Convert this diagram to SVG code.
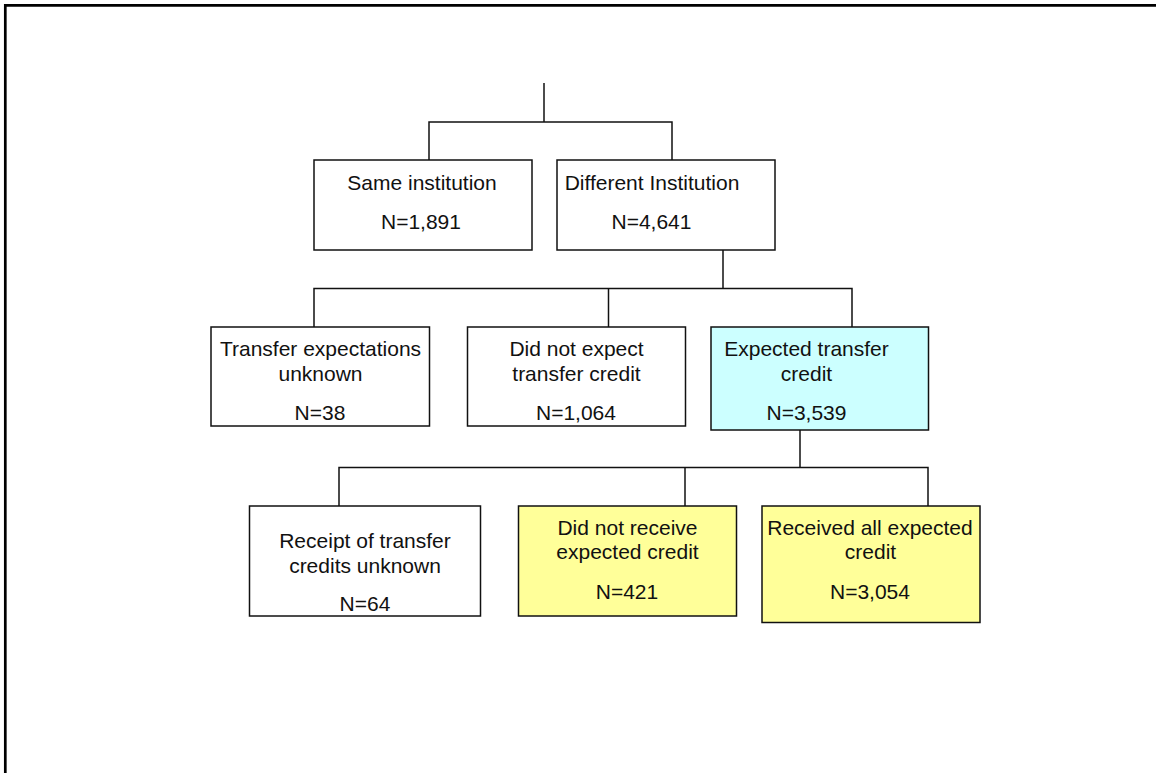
<svg xmlns="http://www.w3.org/2000/svg" width="1156" height="773" viewBox="0 0 1156 773">
<style>
.box{stroke:#111;stroke-width:1.5}
.w{fill:#fff}
.c{fill:#ccffff}
.y{fill:#ffff99}
.t{font-family:"Liberation Sans",Arial,sans-serif;font-size:21px;fill:#111;text-anchor:middle}
.conn{fill:none;stroke:#111;stroke-width:1.5}
</style>
<rect x="0" y="0" width="1156" height="773" fill="#fff"/>
<path d="M5.3,773 V5.3 H1156" fill="none" stroke="#000" stroke-width="2.7"/>
<g id="connectors" class="conn">
<path d="M544,83 V122"/>
<path d="M429,160 V122 H672 V160"/>
<path d="M723,250 V288.5"/>
<path d="M314,327 V288.5 H852 V327"/>
<path d="M608.5,288.5 V327"/>
<path d="M800,430 V467.5"/>
<path d="M339,506 V467.5 H928 V506"/>
<path d="M685,467.5 V506"/>
</g>
<g id="same">
<rect class="box w" x="314" y="160" width="218" height="90"/>
<text class="t" x="422" y="190">Same institution</text>
<text class="t" x="421" y="228.5">N=1,891</text>
</g>
<g id="different">
<rect class="box w" x="557" y="160" width="218" height="90"/>
<text class="t" x="652" y="190">Different Institution</text>
<text class="t" x="651.5" y="228.5">N=4,641</text>
</g>
<g id="unknown-exp">
<rect class="box w" x="211" y="327" width="218.5" height="99"/>
<text class="t" x="320.5" y="356">Transfer expectations</text>
<text class="t" x="320.5" y="381">unknown</text>
<text class="t" x="320" y="420">N=38</text>
</g>
<g id="not-expect">
<rect class="box w" x="467.5" y="327" width="218" height="99"/>
<text class="t" x="576.5" y="356">Did not expect</text>
<text class="t" x="576.5" y="381">transfer credit</text>
<text class="t" x="576" y="420">N=1,064</text>
</g>
<g id="expected">
<rect class="box c" x="711" y="327" width="217.5" height="103"/>
<text class="t" x="806.5" y="356">Expected transfer</text>
<text class="t" x="806.5" y="381">credit</text>
<text class="t" x="806.5" y="420">N=3,539</text>
</g>
<g id="receipt-unknown">
<rect class="box w" x="249.5" y="506" width="231" height="110"/>
<text class="t" x="365" y="547.5">Receipt of transfer</text>
<text class="t" x="365" y="572.5">credits unknown</text>
<text class="t" x="365" y="611">N=64</text>
</g>
<g id="not-receive">
<rect class="box y" x="518.5" y="506" width="218" height="110"/>
<text class="t" x="627.5" y="534.5">Did not receive</text>
<text class="t" x="627.5" y="559">expected credit</text>
<text class="t" x="627" y="598.5">N=421</text>
</g>
<g id="received-all">
<rect class="box y" x="762" y="506" width="218" height="116.5"/>
<text class="t" x="870" y="534.5">Received all expected</text>
<text class="t" x="870.5" y="559">credit</text>
<text class="t" x="870" y="598.5">N=3,054</text>
</g>
</svg>
